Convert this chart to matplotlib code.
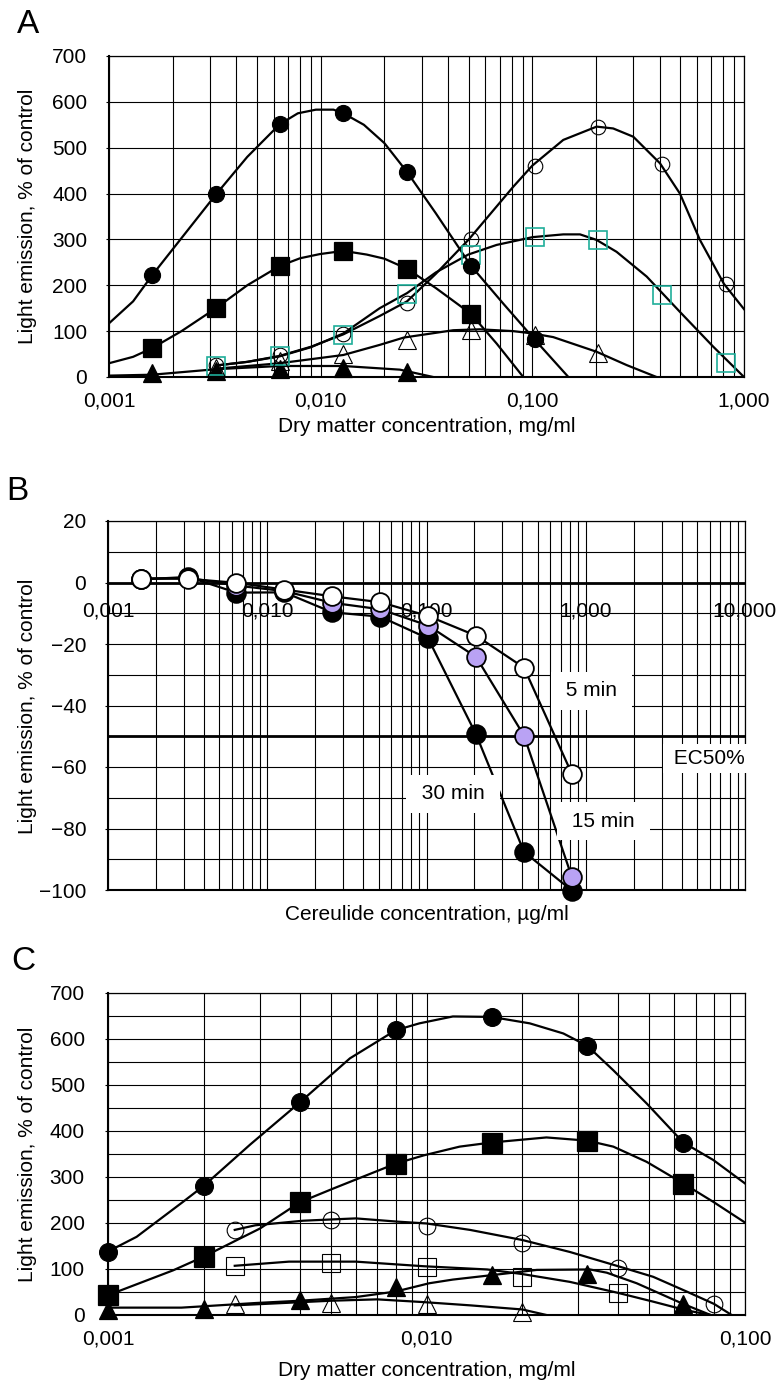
import numpy as np
import matplotlib
matplotlib.use("Agg")
import matplotlib.pyplot as plt
from matplotlib.ticker import LogLocator, NullFormatter

plt.rcParams["font.family"] = ["Liberation Sans", "DejaVu Sans"]

W, H = 779, 1382

# ---------------- panel A : dry matter, mg/ml ----------------
a_x = [0.0016, 0.0032, 0.0064, 0.0128, 0.0256, 0.0512, 0.1024, 0.2048, 0.4096, 0.8192]
a_fcirc = [222, 398, 551, 575, 447, 243, 82]            # 0.0016 .. 0.1024
a_fsq = [63, 150, 242, 275, 236, 138]                   # 0.0016 .. 0.0512
a_ftri = [8, 14, 17, 19, 10]                            # 0.0016 .. 0.0256
a_ocirc = [27, 48, 94, 162, 300, 461, 545, 464, 203]    # 0.0032 .. 0.8192
a_tsq = [23, 45, 91, 182, 267, 306, 299, 179, 30]       # 0.0032 .. 0.8192
a_otri = [20, 35, 50, 81, 102, 92, 52]                  # 0.0032 .. 0.2048

# trend curves of panel A
a_fcirc_tx = [0.001, 0.0013, 0.0016, 0.0032, 0.0045, 0.0064, 0.0078, 0.0095, 0.0115, 0.0128,
              0.016, 0.02, 0.0256, 0.035, 0.0512, 0.0729, 0.1024, 0.148]
a_fcirc_ty = [117, 165, 222, 398, 480, 551, 575, 583, 583, 575,
              550, 510, 447, 357, 243, 160, 82, 0]
a_fsq_tx = [0.001, 0.0013, 0.0016, 0.0022, 0.0032, 0.0045, 0.0064, 0.008, 0.0099, 0.0128,
            0.0165, 0.02, 0.0256, 0.035, 0.0512, 0.0678, 0.0906]
a_fsq_ty = [30, 44, 63, 100, 150, 200, 242, 259, 268, 275,
            267, 258, 236, 194, 138, 73, 0]
a_ocirc_tx = [0.0032, 0.0045, 0.0064, 0.009, 0.0128, 0.019, 0.0256, 0.035, 0.0501, 0.0813,
              0.1, 0.14, 0.2013, 0.241, 0.2998, 0.401, 0.498, 0.619, 0.804, 1.0]
a_ocirc_ty = [25, 33, 46, 66, 93, 133, 165, 225, 300, 415,
              461, 517, 546, 542, 524, 466, 400, 299, 203, 148]
a_tsq_tx = [0.0032, 0.0045, 0.0064, 0.009, 0.0128, 0.019, 0.0256, 0.035, 0.0498, 0.0678,
            0.1003, 0.14, 0.168, 0.201, 0.25, 0.347, 0.498, 0.716, 1.0]
a_tsq_ty = [25, 33, 45, 65, 95, 150, 183, 228, 267, 288,
            305, 311, 311, 299, 273, 219, 142, 66, 0]
a_otri_tx = [0.0032, 0.0064, 0.0128, 0.019, 0.0247, 0.0423, 0.0566, 0.0813, 0.1, 0.1255,
             0.2013, 0.279, 0.386]
a_otri_ty = [18, 30, 48, 70, 86, 102, 104, 100, 95, 87, 55, 26, 0]
a_ftri_tx = [0.001, 0.0016, 0.0032, 0.0064, 0.0128, 0.0237, 0.034]
a_ftri_ty = [3, 5, 17, 24, 24, 16, 0]

# ---------------- panel B : cereulide, ug/ml ----------------
b_x = [0.0016, 0.0032, 0.0064, 0.0128, 0.0256, 0.0512, 0.1024, 0.2048, 0.4096, 0.8192]
b_5min = [1.3, 1.2, -0.1, -2.3, -4.5, -6.4, -10.9, -17.3, -27.7, -62.3]
b_15min = [1.2, 1.5, -1.0, -2.8, -6.6, -8.7, -14.0, -24.2, -49.8, -95.9]
b_30min = [1.0, 1.8, -3.3, -3.2, -9.7, -11.1, -18.2, -49.4, -87.6, -100.2]

# ---------------- panel C : dry matter, mg/ml ----------------
c_x = [0.001, 0.002, 0.004, 0.008, 0.016, 0.032, 0.064]
c_fcirc = [138, 281, 462, 619, 648, 585, 375]
c_fsq = [43, 127, 245, 329, 375, 379, 284]
c_ftri = [10, 14, 32, 61, 87, 89, 24]
c_ox = [0.0025, 0.005, 0.01, 0.02, 0.04, 0.08]
c_ocirc = [185, 207, 193, 157, 102, 24]
c_osq = [107, 114, 105, 82, 48]
c_otri = [25, 26, 25, 7]

# trend curves of panel C
c_fcirc_tx = [0.001, 0.00123, 0.00172, 0.002, 0.0028, 0.004, 0.00575, 0.008, 0.0095, 0.0121,
              0.016, 0.0211, 0.0269, 0.032, 0.0386, 0.0491, 0.064, 0.0795, 0.1]
c_fcirc_ty = [138, 170, 246, 281, 371, 462, 558, 619, 634, 649,
              648, 634, 612, 585, 532, 460, 375, 337, 286]
c_fsq_tx = [0.001, 0.0016, 0.002, 0.003, 0.004, 0.0051, 0.008, 0.0098, 0.0127, 0.016,
            0.0238, 0.032, 0.0386, 0.0491, 0.064, 0.0795, 0.1]
c_fsq_ty = [43, 97, 127, 188, 245, 275, 329, 347, 366, 375,
            386, 379, 366, 333, 286, 246, 201]
c_ocirc_tx = [0.0025, 0.0029, 0.0041, 0.006, 0.0081, 0.01, 0.0137, 0.02, 0.0282, 0.04,
              0.0515, 0.0656, 0.08, 0.0908]
c_ocirc_ty = [185, 195, 205, 210, 203, 199, 185, 163, 137, 106, 83, 51, 24, 0]
c_osq_tx = [0.0025, 0.0037, 0.006, 0.0098, 0.0155, 0.02, 0.0282, 0.04, 0.0515, 0.0656, 0.078]
c_osq_ty = [107, 116, 116, 106, 99, 89, 72, 48, 29, 10, 0]
c_ftri_tx = [0.001, 0.0017, 0.002, 0.0029, 0.004, 0.006, 0.008, 0.0102, 0.0121, 0.0162,
             0.0222, 0.0326, 0.0368, 0.0457, 0.064, 0.078]
c_ftri_ty = [16, 16, 19, 26, 31, 39, 51, 69, 77, 87, 98, 99, 92, 69, 24, 0]
c_otri_tx = [0.0025, 0.005, 0.007, 0.0098, 0.0137, 0.02, 0.0238]
c_otri_ty = [21, 31, 34, 28, 21, 12, 0]

TEAL = "#1fae9a"
LAV = "#b9a2f4"


def px_axes(fig, l, t, r, b):
    return fig.add_axes([l / W, 1 - b / H, (r - l) / W, (b - t) / H])


def frame(ax, xlim, ylim, yt, ygrid, ylabels=None, pad=13.5):
    ax.set_xscale("log")
    ax.set_xlim(*xlim)
    ax.set_ylim(*ylim)
    ax.xaxis.set_minor_locator(LogLocator(base=10, subs=np.arange(2, 10), numticks=100))
    ax.xaxis.set_minor_formatter(NullFormatter())
    ax.set_yticks(yt)
    if ylabels is not None:
        ax.set_yticklabels(ylabels)
    ax.set_yticks(ygrid, minor=True)
    ax.grid(which="both", color="black", lw=0.8)
    ax.set_axisbelow(True)
    ax.tick_params(axis="x", which="both", length=0, labelsize=15, pad=10.4)
    ax.tick_params(axis="y", which="major", length=2.2, width=0.8, direction="out",
                   labelsize=15, pad=pad)
    ax.tick_params(axis="y", which="minor", length=0)
    for s in ax.spines.values():
        s.set_linewidth(0.9)
    ax.spines["left"].set_linewidth(1.5)
    ax.spines["bottom"].set_linewidth(1.5)


def curve(ax, x, y):
    ax.plot(x, y, color="black", lw=1.6, zorder=3, solid_joinstyle="round")


def pts(ax, x, y, marker, ms, fc, ec="black", mew=0.9, z=4):
    ax.plot(x, y, ls="none", marker=marker, ms=ms, mfc=fc, mec=ec, mew=mew,
            zorder=z, clip_on=False)


fig = plt.figure(figsize=(W / 100, H / 100), dpi=100)

# ---------------- A ----------------
ax = px_axes(fig, 109, 56, 744, 377)
frame(ax, (0.001, 1.0), (0, 700), range(0, 701, 100), [])
ax.set_xticks([0.001, 0.01, 0.1, 1.0])
ax.set_xticklabels(["0,001", "0,010", "0,100", "1,000"])

curve(ax, a_ftri_tx, a_ftri_ty)
curve(ax, a_otri_tx, a_otri_ty)
curve(ax, a_ocirc_tx, a_ocirc_ty)
curve(ax, a_tsq_tx, a_tsq_ty)
curve(ax, a_fsq_tx, a_fsq_ty)
curve(ax, a_fcirc_tx, a_fcirc_ty)

pts(ax, a_x[:5], a_ftri, "^", 12.5, "black")
pts(ax, a_x[1:], a_ocirc, "o", 10.5, "none", mew=0.8)
pts(ax, a_x[1:], a_tsq, "s", 13, "none", ec=TEAL, mew=1.2)
pts(ax, a_x[:6], a_fsq, "s", 12.5, "black")
pts(ax, a_x[1:8], a_otri, "^", 13.5, "none", mew=0.8)
pts(ax, a_x[:7], a_fcirc, "o", 11.5, "black")

fig.text(17 / W, 1 - 33 / H, "A", fontsize=24, ha="left", va="baseline")
fig.text(28 / W, 1 - 216 / H, "Light emission, % of control", rotation=90,
         fontsize=15, ha="center", va="center")
fig.text(426.5 / W, 1 - 427 / H, "Dry matter concentration, mg/ml",
         fontsize=15, ha="center", va="center")

# ---------------- B ----------------
ax = px_axes(fig, 108, 521, 745, 890)
frame(ax, (0.001, 10.0), (-100, 20), range(-100, 21, 20), range(-100, 21, 10),
      ylabels=[str(v).replace("-", "\u2212") for v in range(-100, 21, 20)])
ax.set_xticks([0.001, 0.01, 0.1, 1.0, 10.0])
ax.set_xticklabels([])
ax.axhline(0, color="black", lw=2.0, zorder=2)
ax.axhline(-50, color="black", lw=2.0, zorder=2)
for xv, lab in zip([0.001, 0.01, 0.1, 1.0, 10.0],
                   ["0,001", "0,010", "0,100", "1,000", "10,000"]):
    ax.annotate(lab, xy=(xv, 0), xytext=(0, -13.5), textcoords="offset points",
                ha="center", va="top", fontsize=15, zorder=2.2, annotation_clip=False)

for series, fc in ((b_30min, "black"), (b_15min, LAV), (b_5min, "white")):
    ax.plot(b_x, series, color="black", lw=1.6, zorder=3)
    pts(ax, b_x, series, "o", 13.5, fc, mew=1.3, z=4)

box = dict(boxstyle="square,pad=0.45", fc="white", ec="none")
ax.text(1.09, -35.2, " 5 min ", fontsize=15, ha="center", va="center", bbox=box, zorder=5)
ax.text(0.1465, -68.7, " 30 min ", fontsize=15, ha="center", va="center", bbox=box, zorder=5)
ax.text(1.29, -77.6, " 15 min ", fontsize=15, ha="center", va="center", bbox=box, zorder=5)
ax.text(5.76, -57.3, " EC50%", fontsize=15, ha="center", va="center",
        bbox=dict(boxstyle="square,pad=0.25", fc="white", ec="none"), zorder=5, clip_on=False)

fig.text(6 / W, 1 - 500 / H, "B", fontsize=24, ha="left", va="baseline")
fig.text(28 / W, 1 - 706 / H, "Light emission, % of control", rotation=90,
         fontsize=15, ha="center", va="center")
fig.text(426.5 / W, 1 - 915 / H, "Cereulide concentration, \u00b5g/ml",
         fontsize=15, ha="center", va="center")

# ---------------- C ----------------
ax = px_axes(fig, 108, 993, 745, 1315)
frame(ax, (0.001, 0.1), (0, 700), range(0, 701, 100), range(0, 701, 50), pad=14.5)
ax.set_xticks([0.001, 0.01, 0.1])
ax.set_xticklabels(["0,001", "0,010", "0,100"])

curve(ax, c_otri_tx, c_otri_ty)
curve(ax, c_ftri_tx, c_ftri_ty)
curve(ax, c_osq_tx, c_osq_ty)
curve(ax, c_ocirc_tx, c_ocirc_ty)
curve(ax, c_fsq_tx, c_fsq_ty)
curve(ax, c_fcirc_tx, c_fcirc_ty)

pts(ax, c_ox[:4], c_otri, "^", 13.5, "none", mew=0.8)
pts(ax, c_x, c_ftri, "^", 12.5, "black")
pts(ax, c_ox[:5], c_osq, "s", 13, "none", mew=0.8)
pts(ax, c_ox, c_ocirc, "o", 12, "none", mew=0.8)
pts(ax, c_x, c_fsq, "s", 14, "black")
pts(ax, c_x, c_fcirc, "o", 12.8, "black")

fig.text(11 / W, 1 - 970 / H, "C", fontsize=24, ha="left", va="baseline")
fig.text(28 / W, 1 - 1154 / H, "Light emission, % of control", rotation=90,
         fontsize=15, ha="center", va="center")
fig.text(426.5 / W, 1 - 1370 / H, "Dry matter concentration, mg/ml",
         fontsize=15, ha="center", va="center")

fig.savefig("out.png", dpi=100)
